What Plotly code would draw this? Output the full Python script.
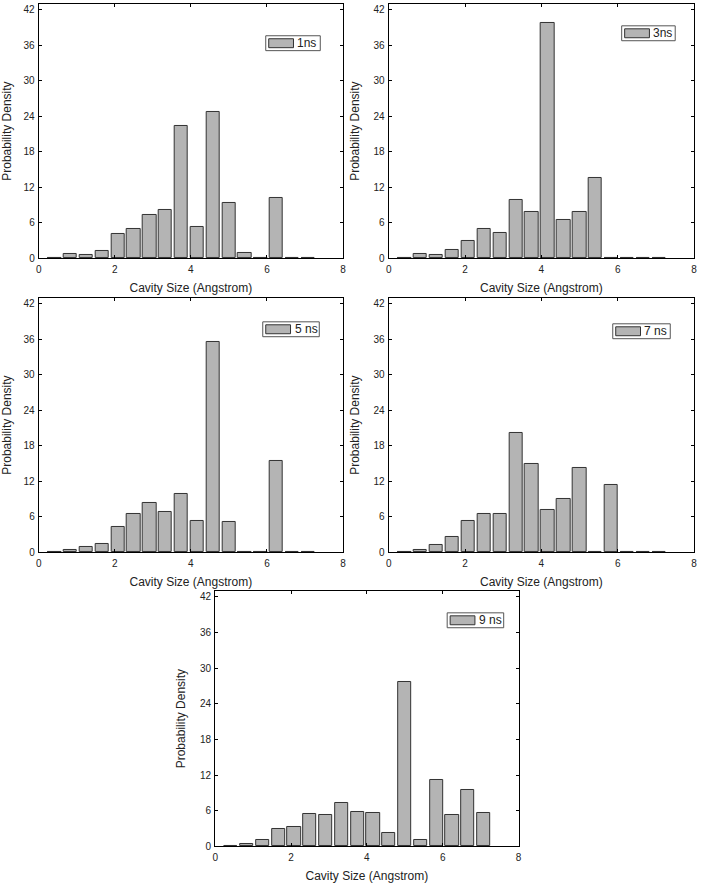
import plotly.graph_objects as go

# bin centres (Angstrom): bin width 5/12 A
bin_index = list(range(1, 18))
bin_width = 5.0 / 12.0

labels = ["1ns", "3ns", "5 ns", "7 ns", "9 ns"]

d1ns = [0.1, 0.67, 0.56, 1.3, 4.15, 4.88, 7.4, 8.19, 22.3, 5.27, 24.8, 9.37, 0.95, 0.0, 10.15, 0.0, 0.0]
d3ns = [0.1, 0.73, 0.62, 1.46, 2.86, 5.0, 4.26, 9.81, 7.8, 39.76, 6.39, 7.9, 13.5, 0.0, 0.0, 0.0, 0.0]
d5ns = [0.1, 0.4, 0.9, 1.4, 4.2, 6.55, 8.4, 6.83, 9.8, 5.26, 35.56, 5.15, 0.1, 0.0, 15.4, 0.0, 0.0]
d7ns = [0.0, 0.45, 1.3, 2.63, 5.32, 6.55, 6.55, 20.1, 15.0, 7.1, 9.0, 14.33, 0.1, 11.4, 0.0, 0.0, 0.0]
d9ns = [0.1, 0.45, 1.1, 2.97, 3.25, 5.49, 5.2, 7.33, 5.77, 5.6, 2.3, 27.66, 1.0, 11.14, 5.2, 9.4, 5.6]

series = [d1ns, d3ns, d5ns, d7ns, d9ns]

x_ticks = [0, 2, 4, 6, 8]
y_ticks = [0, 6, 12, 18, 24, 30, 36, 42]

W, H = 703, 890
# panel frames in pixels: (left, right, top, bottom)
frames = [
    (36, 343, 4, 260),
    (389, 697, 4, 260),
    (36, 343, 300, 556),
    (389, 697, 300, 556),
    (214, 520, 595, 852),
]
# legend boxes in pixels: (left, top, width)
legend_boxes = [(265, 36, 55), (624, 26, 54), (262, 324, 57), (615, 326, 58), (448, 617, 57)]
LEG_H = 15

x = [k * bin_width for k in bin_index]

fig = go.Figure()
font_family = "Liberation Sans, Arial, sans-serif"
BAR_FILL = "#b4b4b4"
BAR_LINE = "#333333"

shapes = []
annotations = []

for i, (vals, lab) in enumerate(zip(series, labels)):
    n = "" if i == 0 else str(i + 1)
    fig.add_trace(go.Bar(
        x=x, y=vals, width=0.35, name=lab,
        marker=dict(color=BAR_FILL, line=dict(color=BAR_LINE, width=1)),
        xaxis="x" + n, yaxis="y" + n, showlegend=False,
    ))
    l, r, t, b = frames[i]
    axis_common = dict(
        showline=True, linecolor="black", linewidth=1, mirror="ticks",
        ticks="inside", ticklen=3, tickcolor="black", showgrid=False, zeroline=False,
        tickfont=dict(family=font_family, size=10, color="#222"),
        ticklabeloverflow="allow",
    )
    fig.update_layout(**{
        "xaxis" + n: dict(
            domain=[l / W, r / W], range=[0, 8], tickvals=x_ticks,
            anchor="y" + n, ticklabelstandoff=2,
            title=dict(text="Cavity Size (Angstrom)", font=dict(family=font_family, size=12, color="#222"), standoff=9),
            **axis_common,
        ),
        "yaxis" + n: dict(
            domain=[1 - b / H, 1 - t / H], range=[0, 43], tickvals=y_ticks,
            anchor="x" + n, ticklabelstandoff=1,
            title=dict(text="Probability Density", font=dict(family=font_family, size=12, color="#222"), standoff=11),
            **axis_common,
        ),
    })
    # legend box (drawn as shapes + real text)
    bl, bt, bw = legend_boxes[i]
    shapes.append(dict(type="rect", xref="paper", yref="paper",
                       x0=bl / W, x1=(bl + bw) / W, y0=1 - (bt + LEG_H) / H, y1=1 - bt / H,
                       line=dict(color="#555", width=1), fillcolor="white"))
    shapes.append(dict(type="rect", xref="paper", yref="paper",
                       x0=(bl + 3) / W, x1=(bl + 28) / W, y0=1 - (bt + 12) / H, y1=1 - (bt + 3) / H,
                       line=dict(color=BAR_LINE, width=1), fillcolor=BAR_FILL))
    annotations.append(dict(xref="paper", yref="paper", x=(bl + 30) / W, y=1 - (bt + LEG_H / 2) / H,
                            xanchor="left", yanchor="middle", text=lab, showarrow=False,
                            font=dict(family=font_family, size=12, color="#222")))

fig.update_layout(
    width=W, height=H,
    margin=dict(l=0, r=0, t=0, b=0),
    paper_bgcolor="white", plot_bgcolor="white",
    bargap=0,
    shapes=shapes, annotations=annotations,
)

# remove the browser's default body margin so the figure sits at the window origin
fig.write_html("out.html", config={"displayModeBar": False},
               post_script="document.body.style.margin='0';")
